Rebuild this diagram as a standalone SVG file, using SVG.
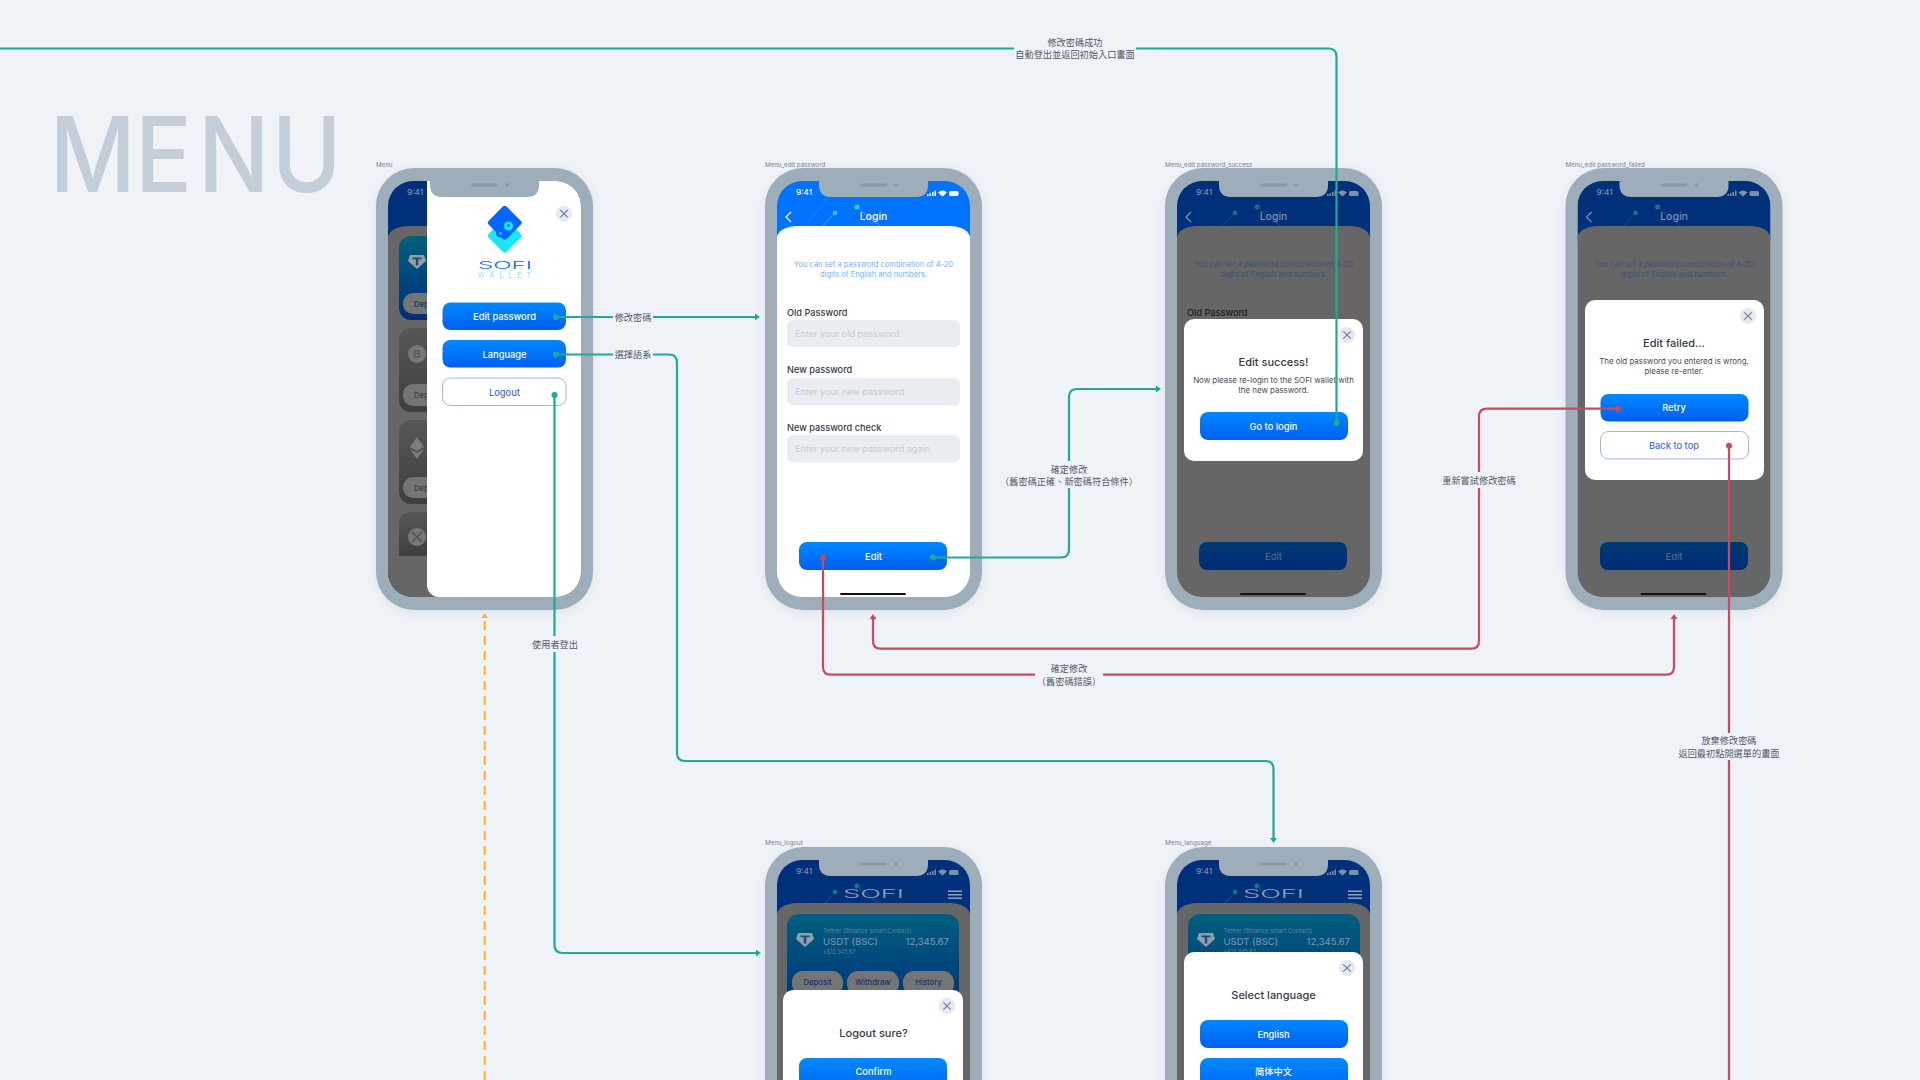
<svg xmlns="http://www.w3.org/2000/svg" width="1920" height="1080" viewBox="0 0 1920 1080">
<style>
text{font-family:Inter,"Noto Sans",sans-serif}
.cjk{font-family:"Noto Sans CJK TC","Noto Sans CJK SC",sans-serif;font-size:9.2px;fill:#4f5965;text-anchor:middle}
.cap{font-size:6.2px;fill:#77828f}
.m{text-anchor:middle}
.time{font-size:8.2px;font-weight:500;text-anchor:middle}
.head{font-size:10.500px;font-weight:500;text-anchor:middle}
.hint{font-size:7.500px;text-anchor:middle}
.lab{font-size:9.200px;font-weight:500;fill:#333b45}
.ph{font-size:9.100px;fill:#c6ccd4}
.inp{fill:#e9edf2}
.btnT{font-size:9.300px;font-weight:500;fill:#fff;text-anchor:middle}
.dimT{font-size:9.300px;font-weight:500;fill:#52688c;text-anchor:middle}
.outT{font-size:9.300px;font-weight:500;fill:#3f6fdf;text-anchor:middle}
.out{fill:#fff;stroke:#9db5ec;stroke-width:1}
.title{font-size:11px;font-weight:500;fill:#333b45;text-anchor:middle}
.body{font-size:7.900px;fill:#444c57;text-anchor:middle}
.modal{fill:#fff}
.edge{fill:none;stroke-width:2.200}
.teal{stroke:#1dab95}
.red{stroke:#d0465f}
.yel{stroke:#fbb72c;stroke-dasharray:9 6}
.lb{fill:#eff3f8}
.cardT{fill:#62809b}
.cardV{fill:#8599ad}
.pill{fill:#747474}
.pillT{font-size:7.700px;font-weight:500;fill:#15336b;text-anchor:middle}
.logoT{font-weight:300}
</style>
<defs>
<linearGradient id="gb" x1="0" y1="0" x2="0" y2="1"><stop offset="0" stop-color="#0088ff"/><stop offset="1" stop-color="#005ff0"/></linearGradient>
<linearGradient id="gd" x1="0" y1="0" x2="0" y2="1"><stop offset="0" stop-color="#003a72"/><stop offset="1" stop-color="#002c78"/></linearGradient>
<linearGradient id="gc" x1="0" y1="0" x2="0" y2="1"><stop offset="0" stop-color="#005f7c"/><stop offset="1" stop-color="#002f7c"/></linearGradient>
<linearGradient id="gg" x1="0" y1="0" x2="0" y2="1"><stop offset="0" stop-color="#575757"/><stop offset="1" stop-color="#3e3e3e"/></linearGradient>
<filter id="sh" x="-10%" y="-10%" width="120%" height="120%"><feDropShadow dx="0" dy="2" stdDeviation="4" flood-color="#5b6b80" flood-opacity=".14"/></filter>
<clipPath id="scr"><rect x="12" y="13" width="193" height="416" rx="25"/></clipPath>
<rect id="frame" width="217" height="442" rx="38" fill="#9eadba" filter="url(#sh)"/>
<g id="notch"><path d="M54 12H163V17Q163 29 151 29H66Q54 29 54 17Z" fill="#9eadba"/><rect x="95" y="15.500" width="27" height="3" rx="1.500" fill="#8a99a6"/><circle cx="131" cy="17" r="2" fill="#8a99a6"/></g>
<g id="status" fill="currentColor"><rect x="162" y="26" width="1.500" height="2"/><rect x="164.500" y="25" width="1.500" height="3"/><rect x="167" y="24" width="1.500" height="4"/><rect x="169.500" y="22.500" width="1.500" height="5.500"/><path d="M173 24.500Q177.500 20.500 182 24.500L177.500 28.500Z"/><rect x="184" y="23" width="9.500" height="5" rx="1.500"/></g>
<g id="deco"><circle cx="70" cy="45" r="2.300"/><circle cx="92" cy="39" r="2.500"/><path d="M70 45L58 58M92 39L115 58" stroke="currentColor" stroke-width="1" fill="none"/><path d="M64 29L40 58" stroke="currentColor" stroke-width=".6" opacity=".6" fill="none"/></g>
<g id="close"><circle r="8" fill="#e3e8f1"/><path d="M-3.700-3.700L3.700 3.700M3.700-3.700L-3.700 3.700" stroke="#6e7f95" stroke-width="1.100"/></g>
<g id="tether"><path d="M-7-7H7L9-1 0 7-9-1Z" fill="#8fa0ad"/><path d="M-4.500-4.500H4.500V-2.800H1.200V3.500H-1.200V-2.800H-4.500Z" fill="#1d4a78"/></g>
<g id="burger"><rect x="183" y="43.500" width="14" height="1.500" fill="#8fa0b5"/><rect x="183" y="47" width="14" height="1.500" fill="#8fa0b5"/><rect x="183" y="50.500" width="14" height="1.500" fill="#8fa0b5"/></g>
<marker id="aT" markerUnits="userSpaceOnUse" markerWidth="6" markerHeight="8" refX="2" refY="4" orient="auto"><path d="M0 .5L5 4 0 7.500Z" fill="#1dab95"/></marker>
<marker id="aR" markerUnits="userSpaceOnUse" markerWidth="6" markerHeight="8" refX="2" refY="4" orient="auto"><path d="M0 .5L5 4 0 7.500Z" fill="#d0465f"/></marker>
<marker id="aY" markerUnits="userSpaceOnUse" markerWidth="6" markerHeight="8" refX="2" refY="4" orient="auto"><path d="M0 .5L5 4 0 7.500Z" fill="#fbb72c"/></marker>
<marker id="dT" markerUnits="userSpaceOnUse" markerWidth="8" markerHeight="8" refX="4" refY="4"><circle cx="4" cy="4" r="3" fill="#1dab95"/></marker>
<marker id="dR" markerUnits="userSpaceOnUse" markerWidth="8" markerHeight="8" refX="4" refY="4"><circle cx="4" cy="4" r="3" fill="#d0465f"/></marker>
</defs>
<rect width="1920" height="1080" fill="#eff3f8"/>
<text id="page-title" transform="scale(.9 1)" x="55 150 220 302" y="192" font-size="105" font-weight="500" fill="#c3ced9">MENU</text>

<g id="node-menu" transform="translate(376 168)">
<text class="cap" x="0" y="-1.500">Menu</text>
<use href="#frame"/>
<g clip-path="url(#scr)">
<rect x="12" y="13" width="193" height="416" fill="#00307a"/>
<rect x="12" y="58" width="193" height="380" rx="20" ry="12" fill="#666"/>
<rect x="23" y="68" width="100" height="84" rx="12" fill="url(#gc)"/>
<rect x="23" y="160" width="100" height="84" rx="12" fill="url(#gg)"/>
<rect x="23" y="252" width="100" height="84" rx="12" fill="url(#gg)"/>
<path d="M23 388V356Q23 344 35 344H123V388Z" fill="url(#gg)"/>
<use href="#tether" x="41" y="94"/>
<circle cx="41" cy="186" r="9" fill="#777"/><text x="41" y="190" font-size="11" font-weight="700" fill="#5a5a5a" class="m">B</text>
<path d="M41 269L48 279 41 283 34 279ZM34 281L41 285 48 281 41 291Z" fill="#7c7c7c"/>
<circle cx="41" cy="369" r="9" fill="#777"/><path d="M36 364Q41 369 46 374M46 364Q41 369 36 374" stroke="#505050" stroke-width="1.500" fill="none"/>
<rect class="pill" x="27" y="125" width="70" height="21" rx="10"/><text class="pillT" x="52" y="139">Deposit</text>
<rect class="pill" x="27" y="216" width="70" height="22" rx="10"/><text class="pillT" x="52" y="230" style="fill:#3a3f48">Deposit</text>
<rect class="pill" x="27" y="309" width="70" height="21" rx="10"/><text class="pillT" x="52" y="323" style="fill:#3a3f48">Deposit</text>
<text class="time" x="39" y="27" fill="#7d90aa">9:41</text>
<rect x="51" y="-20" width="180" height="449" rx="12" fill="#fff"/>
</g>
<use href="#notch"/>
<g id="logo">
<rect x="116" y="55" width="25.500" height="25.500" rx="3" fill="#1ce6f4" transform="rotate(45 128.750 67.750)"/>
<rect x="116" y="42" width="25.500" height="25.500" rx="3" fill="#0066ff" transform="rotate(45 128.750 54.750)"/>
<circle cx="124.500" cy="65" r="4.500" fill="#0066ff"/><circle cx="132.500" cy="58" r="4.500" fill="#1ce6f4"/><circle cx="132.500" cy="57.500" r="1.300" fill="#0066ff"/><circle cx="124.500" cy="65.500" r="1.300" fill="#1ce6f4"/>
<text class="logoT" x="102" y="101" font-size="10" fill="#0f6fe8" textLength="54" lengthAdjust="spacingAndGlyphs">SOFI</text>
<text class="logoT" x="102" y="109.500" font-size="7" fill="#6fd8ee" textLength="53" lengthAdjust="spacing">WALLET</text>
</g>
<use href="#close" x="188" y="45.700"/>
<rect x="66.500" y="134.500" width="123.500" height="27.500" rx="8" fill="url(#gb)"/><text class="btnT" x="128.500" y="151.600">Edit password</text>
<rect x="66.500" y="172" width="123.500" height="27.500" rx="8" fill="url(#gb)"/><text class="btnT" x="128.500" y="189.500">Language</text>
<rect class="out" x="66.500" y="210" width="123.500" height="27.500" rx="8"/><text class="outT" x="128.500" y="227.500">Logout</text>
</g>

<g id="node-edit-password" transform="translate(765 168)">
<text class="cap" x="0" y="-1.500">Menu_edit password</text>
<use href="#frame"/>
<g clip-path="url(#scr)">
<rect x="12" y="13" width="193" height="60" fill="#0072fb"/>
<use href="#deco" fill="#2fd0ff" color="#39a4ff"/>
<rect x="12" y="58" width="193" height="380" rx="20" ry="12" fill="#fff"/>
</g>
<text class="time" x="39" y="26.500" fill="#fff">9:41</text>
<use href="#status" color="#fff"/>
<path d="M26 44L21 49 26 54" fill="none" stroke="#fff" stroke-width="1.200"/>
<text class="head" x="108.500" y="52" fill="#fff">Login</text>
<text class="hint" x="108.500" y="99" fill="#73b3f6">You can set a password combination of 4-20</text>
<text class="hint" x="108.500" y="108.500" fill="#73b3f6">digits of English and numbers.</text>
<text class="lab" x="22" y="148">Old Password</text>
<rect class="inp" x="22" y="152" width="173" height="27.500" rx="6"/><text class="ph" x="30" y="169">Enter your old password</text>
<text class="lab" x="22" y="205">New password</text>
<rect class="inp" x="22" y="210" width="173" height="27.500" rx="6"/><text class="ph" x="30" y="226.500">Enter your new password</text>
<text class="lab" x="22" y="262.500">New password check</text>
<rect class="inp" x="22" y="267" width="173" height="27.500" rx="6"/><text class="ph" x="30" y="284">Enter your new password again</text>
<rect x="34" y="374" width="148" height="28" rx="8" fill="url(#gb)"/><text class="btnT" x="108.500" y="391.500">Edit</text>
<rect x="75" y="425" width="66" height="2" rx="1" fill="#111"/>
<use href="#notch"/>
</g>

<g id="node-edit-success" transform="translate(1165 168)">
<text class="cap" x="0" y="-1.500">Menu_edit password_success</text>
<use href="#frame"/>
<g clip-path="url(#scr)">
<rect x="12" y="13" width="193" height="60" fill="#00307a"/>
<use href="#deco" fill="#0e7f7f" color="#0a5a80"/>
<rect x="12" y="58" width="193" height="380" rx="20" ry="12" fill="#666"/>
</g>
<text class="time" x="39" y="26.500" fill="#7d90aa">9:41</text>
<use href="#status" color="#7d90aa"/>
<path d="M26 44L21 49 26 54" fill="none" stroke="#7d90aa" stroke-width="1.200"/>
<text class="head" x="108.500" y="52" fill="#7d90aa">Login</text>
<text class="hint" x="108.500" y="99" fill="#3b5178">You can set a password combination of 4-20</text>
<text class="hint" x="108.500" y="108.500" fill="#3b5178">digits of English and numbers.</text>
<text class="lab" x="22" y="148" style="fill:#1c1c1c">Old Password</text>
<rect x="34" y="374" width="148" height="28" rx="8" fill="url(#gd)"/><text class="dimT" x="108.500" y="391.500">Edit</text>
<rect x="75" y="425" width="66" height="2" rx="1" fill="#111"/>
<use href="#notch"/>
<rect class="modal" x="19" y="151" width="179" height="142" rx="10"/>
<use href="#close" x="182" y="167"/>
<text class="title" x="108.500" y="197.500">Edit success!</text>
<text class="body" x="108.500" y="215">Now please re-login to the SOFI wallet with</text>
<text class="body" x="108.500" y="225">the new password.</text>
<rect x="35" y="244" width="148" height="28" rx="8" fill="url(#gb)"/><text class="btnT" x="108.500" y="261.500">Go to login</text>
</g>

<g id="node-edit-failed" transform="translate(1565.500 168)">
<text class="cap" x="0" y="-1.500">Menu_edit password_failed</text>
<use href="#frame"/>
<g clip-path="url(#scr)">
<rect x="12" y="13" width="193" height="60" fill="#00307a"/>
<use href="#deco" fill="#0e7f7f" color="#0a5a80"/>
<rect x="12" y="58" width="193" height="380" rx="20" ry="12" fill="#666"/>
</g>
<text class="time" x="39" y="26.500" fill="#7d90aa">9:41</text>
<use href="#status" color="#7d90aa"/>
<path d="M26 44L21 49 26 54" fill="none" stroke="#7d90aa" stroke-width="1.200"/>
<text class="head" x="108.500" y="52" fill="#7d90aa">Login</text>
<text class="hint" x="108.500" y="99" fill="#3b5178">You can set a password combination of 4-20</text>
<text class="hint" x="108.500" y="108.500" fill="#3b5178">digits of English and numbers.</text>
<rect x="34.500" y="374" width="148" height="28" rx="8" fill="url(#gd)"/><text class="dimT" x="108.500" y="391.500">Edit</text>
<rect x="75" y="425" width="66" height="2" rx="1" fill="#111"/>
<use href="#notch"/>
<rect class="modal" x="19.500" y="132" width="179" height="180" rx="10"/>
<use href="#close" x="182.500" y="148"/>
<text class="title" x="108.500" y="179">Edit failed...</text>
<text class="body" x="108.500" y="196">The old password you entered is wrong,</text>
<text class="body" x="108.500" y="206">please re-enter.</text>
<rect x="35" y="226" width="148" height="27.500" rx="8" fill="url(#gb)"/><text class="btnT" x="108.500" y="243">Retry</text>
<rect class="out" x="35" y="263.500" width="148" height="27.500" rx="8"/><text class="outT" x="108.500" y="280.500">Back to top</text>
</g>

<g id="node-logout" transform="translate(765 847)">
<text class="cap" x="0" y="-2">Menu_logout</text>
<use href="#frame"/>
<g clip-path="url(#scr)">
<rect x="12" y="13" width="193" height="60" fill="#00307a"/>
<use href="#deco" fill="#0e7f7f" color="#0a5a80"/>
<rect x="12" y="56" width="193" height="380" rx="20" ry="12" fill="#666"/>
<rect x="22" y="67" width="172" height="100" rx="12" fill="url(#gc)"/>
<use href="#tether" x="40" y="93"/>
<text class="cardT" x="58" y="85.500" font-size="6">Tether (Binance smart Contact)</text>
<text class="cardV" x="58" y="98" font-size="9.500">USDT (BSC)</text>
<text class="cardV" x="184" y="98" font-size="9.500" text-anchor="end">12,345.67</text>
<text class="cardT" x="58" y="106.500" font-size="5.500">≈$12,345.67</text>
<rect class="pill" x="27" y="124" width="51" height="24" rx="11"/><text class="pillT" x="52.500" y="138">Deposit</text>
<rect class="pill" x="82" y="124" width="52" height="24" rx="11"/><text class="pillT" x="108" y="138">Withdraw</text>
<rect class="pill" x="138" y="124" width="51" height="24" rx="11"/><text class="pillT" x="163.500" y="138">History</text>
</g>
<text class="time" x="39" y="26.500" fill="#7d90aa">9:41</text>
<use href="#status" color="#7d90aa"/>
<text class="logoT" x="108.500" y="51" font-size="11.500" fill="#8fa0b5" textLength="61" lengthAdjust="spacingAndGlyphs" text-anchor="middle">SOFI</text>
<use href="#burger"/>
<use href="#notch"/>
<rect class="modal" x="18" y="143" width="180" height="120" rx="10"/>
<use href="#close" x="182" y="159"/>
<text class="title" x="108.500" y="190">Logout sure?</text>
<rect x="34" y="211" width="148" height="40" rx="8" fill="url(#gb)"/><text class="btnT" x="108.500" y="228">Confirm</text>
</g>

<g id="node-language" transform="translate(1165 847)">
<text class="cap" x="0" y="-2">Menu_language</text>
<use href="#frame"/>
<g clip-path="url(#scr)">
<rect x="12" y="13" width="193" height="60" fill="#00307a"/>
<use href="#deco" fill="#0e7f7f" color="#0a5a80"/>
<rect x="12" y="56" width="193" height="380" rx="20" ry="12" fill="#666"/>
<rect x="23" y="67" width="172" height="100" rx="12" fill="url(#gc)"/>
<use href="#tether" x="41" y="93"/>
<text class="cardT" x="58.500" y="85.500" font-size="6">Tether (Binance smart Contact)</text>
<text class="cardV" x="58.500" y="98" font-size="9.500">USDT (BSC)</text>
<text class="cardV" x="185" y="98" font-size="9.500" text-anchor="end">12,345.67</text>
<text class="cardT" x="58.500" y="106.500" font-size="5.500">≈$12,345.67</text>
</g>
<text class="time" x="39" y="26.500" fill="#7d90aa">9:41</text>
<use href="#status" color="#7d90aa"/>
<text class="logoT" x="108.500" y="51" font-size="11.500" fill="#8fa0b5" textLength="61" lengthAdjust="spacingAndGlyphs" text-anchor="middle">SOFI</text>
<use href="#burger"/>
<use href="#notch"/>
<rect class="modal" x="19" y="105" width="179" height="140" rx="10"/>
<use href="#close" x="182" y="121"/>
<text class="title" x="108.500" y="152">Select language</text>
<rect x="35" y="173" width="148" height="28" rx="8" fill="url(#gb)"/><text class="btnT" x="108.500" y="190.500">English</text>
<rect x="35" y="211" width="148" height="40" rx="8" fill="url(#gb)"/><text class="btnT" x="108.500" y="228" style="font-family:'Noto Sans CJK SC',sans-serif">简体中文</text>
</g>

<g id="connectors">
<path class="edge teal" marker-start="url(#dT)" marker-end="url(#aT)" d="M556 317H757"/>
<path class="edge teal" marker-start="url(#dT)" marker-end="url(#aT)" d="M556 354.500H669Q677 354.500 677 362.500V753Q677 761 685 761H1265.500Q1273.500 761 1273.500 769V840"/>
<path class="edge teal" marker-start="url(#dT)" marker-end="url(#aT)" d="M554.500 395V945Q554.500 953 562.500 953H758"/>
<path class="edge teal" marker-start="url(#dT)" d="M1336.500 423V56.500Q1336.500 48.500 1328.500 48.500H0"/>
<path class="edge teal" marker-start="url(#dT)" marker-end="url(#aT)" d="M933 557.500H1061Q1069 557.500 1069 549.500V397Q1069 389 1077 389H1158"/>
<path class="edge red" marker-start="url(#dR)" marker-end="url(#aR)" d="M1618 408.700H1487Q1479 408.700 1479 416.700V640.700Q1479 648.700 1471 648.700H881Q873 648.700 873 640.700V617"/>
<path class="edge red" marker-start="url(#dR)" marker-end="url(#aR)" d="M823 557.500V666.700Q823 674.700 831 674.700H1666Q1674 674.700 1674 666.700V617"/>
<path class="edge red" marker-start="url(#dR)" d="M1729 445.700V1080"/>
<path class="edge yel" marker-end="url(#aY)" d="M484.700 1080V616"/>
<g id="edge-labels">
<rect class="lb" x="613" y="309" width="40" height="16"/><text class="cjk" x="633" y="320.500">修改密碼</text>
<rect class="lb" x="613" y="346" width="40" height="16"/><text class="cjk" x="633" y="357.500">選擇語系</text>
<rect class="lb" x="531" y="636" width="48" height="16"/><text class="cjk" x="555" y="647.500">使用者登出</text>
<rect class="lb" x="1014" y="34" width="122" height="27"/><text class="cjk" x="1075" y="45.500">修改密碼成功</text><text class="cjk" x="1075" y="57.500">自動登出並返回初始入口畫面</text>
<rect class="lb" x="1005" y="461" width="128" height="27"/><text class="cjk" x="1069" y="472.500">確定修改</text><text class="cjk" x="1069" y="485">（舊密碼正確、新密碼符合條件）</text>
<rect class="lb" x="1035" y="661" width="68" height="27"/><text class="cjk" x="1069" y="672">確定修改</text><text class="cjk" x="1069" y="684.500">（舊密碼錯誤）</text>
<rect class="lb" x="1441" y="472" width="76" height="16"/><text class="cjk" x="1479" y="483.500">重新嘗試修改密碼</text>
<rect class="lb" x="1677" y="733" width="104" height="27"/><text class="cjk" x="1729" y="744">放棄修改密碼</text><text class="cjk" x="1729" y="756.500">返回最初點開選單的畫面</text>
</g>
</g>
</svg>
